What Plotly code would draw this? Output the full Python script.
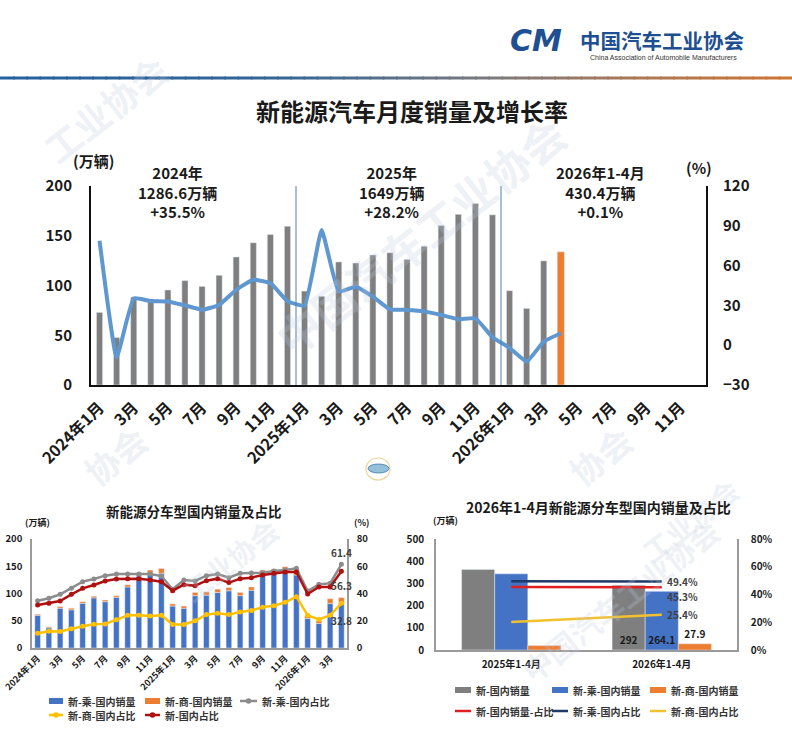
import plotly.graph_objects as go

FONT = "Noto Sans CJK SC, Noto Sans, sans-serif"
W, H = 792, 740

# ---------------- main chart data ----------------
main_months = ([f"2024年{m}月" if m == 1 else f"{m}月" for m in range(1, 13)]
               + [f"2025年{m}月" if m == 1 else f"{m}月" for m in range(1, 13)]
               + [f"2026年{m}月" if m == 1 else f"{m}月" for m in range(1, 13)])
nev_sales = [73, 47.7, 88.3, 85, 95.5, 104.9, 99.1, 110.3, 128.7, 143, 151.2, 159.6,
             94.4, 89.2, 123.7, 122.6, 130.7, 132.9, 126.2, 139.5, 160.4, 171.5, 182.3, 171,
             94.8, 77, 124.8]
nev_sales_latest = [133.8]
nev_growth = [78.8, -9.2, 35.3, 33.3, 33, 30, 26.8, 30.3, 41.8, 49.3, 46.8, 33.2,
              29.8, 86.8, 40.4, 44.1, 36.6, 27, 26.6, 25.5, 22.8, 19.5, 20.3, 6,
              -2, -12.4, 2.7, 9.0]
year_notes = ["2024年<br>1286.6万辆<br>+35.5%", "2025年<br>1649万辆<br>+28.2%",
              "2026年1-4月<br>430.4万辆<br>+0.1%"]

# ---------------- bottom-left data ----------------
sub_months = main_months[:28]
pv_dom = [60, 37, 73, 70, 82, 92, 85, 93, 112, 132, 136, 137,
          77, 73, 96, 97, 102, 105, 96, 106, 136, 138, 141, 134,
          54, 45, 81.5, 83.6]
cv_dom = [2, 2, 3, 3, 3, 3, 3, 3, 4, 5, 7, 9,
          4, 4, 6, 6, 6, 6, 6, 6, 7, 7, 8, 10,
          5, 5, 9, 8.9]
pv_share = [34.7, 36.5, 39.4, 43.8, 48.7, 50.6, 53.1, 54.3, 54.3, 54.3, 54.3, 52.8,
            43.1, 49.9, 49.2, 53.1, 54.3, 51.6, 54.8, 55.0, 55.3, 56.5, 57.2, 58.5,
            41.8, 46.7, 47.5, 61.4]
nev_share = [31.6, 32.8, 34.5, 39.4, 43.8, 46.2, 49.2, 50.6, 50.9, 50.9, 49.9, 48.7,
             42.1, 46.5, 45.7, 49.4, 50.9, 48.0, 50.9, 51.6, 53.6, 54.8, 55.8, 55.8,
             39.6, 44.8, 44.8, 56.3]
cv_share = [10.8, 12.3, 12.2, 14.2, 16, 17.5, 17.7, 20.7, 24, 24, 23.5, 24,
            17.3, 17.3, 20, 24.5, 25.5, 24.5, 26.5, 27.5, 30, 31, 33.5, 37.7,
            24, 21, 24, 32.8]

# ---------------- bottom-right data ----------------
periods = ["2025年1-4月", "2026年1-4月"]
p_nev = [363, 292]
p_pv = [343, 264.1]
p_cv = [20, 27.9]
p_nev_share = [45.4, 45.3]
p_pv_share = [49.5, 49.4]
p_cv_share = [20.1, 25.4]

C_GRAY, C_BLUE, C_ORANGE = "#7f7f7f", "#4472c4", "#ed7d31"
C_LGRAY, C_YEL, C_DRED = "#8c8c8c", "#ffc000", "#b01010"
C_RED, C_NAVY, C_YEL2 = "#e02020", "#1f3a68", "#f2c12e"


def py(px):
    return 1 - px / H


def pxx(px):
    return px / W


fig = go.Figure()

# ---- main chart ----
xi = list(range(len(nev_sales)))
fig.add_trace(go.Bar(x=xi, y=nev_sales, marker_color=C_GRAY, width=0.36,
                     showlegend=False, xaxis="x", yaxis="y"))
fig.add_trace(go.Bar(x=[len(nev_sales) + i for i in range(len(nev_sales_latest))],
                     y=nev_sales_latest, marker_color=C_ORANGE, width=0.42,
                     showlegend=False, xaxis="x", yaxis="y"))
fig.add_trace(go.Scatter(x=list(range(len(nev_growth))), y=nev_growth, mode="lines",
                         line=dict(color="#5f97d0", width=4, shape="spline", smoothing=0.35),
                         showlegend=False, xaxis="x", yaxis="y2"))

# ---- bottom-left ----
xs = list(range(len(sub_months)))
fig.add_trace(go.Bar(x=xs, y=pv_dom, marker_color=C_BLUE, width=0.5, name="新-乘-国内销量",
                     xaxis="x2", yaxis="y3", showlegend=False))
fig.add_trace(go.Bar(x=xs, y=cv_dom, base=pv_dom, marker_color=C_ORANGE, width=0.5,
                     name="新-商-国内销量", xaxis="x2", yaxis="y3", showlegend=False))
for arr, c, nm in [(pv_share, C_LGRAY, "新-乘-国内占比"), (cv_share, C_YEL, "新-商-国内占比"),
                   (nev_share, C_DRED, "新-国内占比")]:
    fig.add_trace(go.Scatter(x=xs, y=arr, mode="lines+markers", name=nm,
                             line=dict(color=c, width=2.5), marker=dict(size=5, color=c),
                             xaxis="x2", yaxis="y4", showlegend=False))

# ---- bottom-right ----
xp = list(range(len(periods)))
tf = dict(size=10, color="#1a1a1a", family=FONT, weight="bold")
fig.add_trace(go.Bar(x=xp, y=p_nev, width=0.22, offset=-0.33, marker_color=C_GRAY,
                     name="新-国内销量", text=[""] + [f"{v:g}" for v in p_nev[1:]],
                     textposition="inside", insidetextanchor="start", textangle=0,
                     textfont=tf, xaxis="x3", yaxis="y5", showlegend=False))
fig.add_trace(go.Bar(x=xp, y=p_pv, width=0.22, offset=-0.11, marker_color=C_BLUE,
                     name="新-乘-国内销量", text=[""] + [f"{v:g}" for v in p_pv[1:]],
                     textposition="inside", insidetextanchor="start", textangle=0,
                     textfont=tf, xaxis="x3", yaxis="y5", showlegend=False))
fig.add_trace(go.Bar(x=xp, y=p_cv, width=0.22, offset=0.11, marker_color=C_ORANGE,
                     name="新-商-国内销量", text=[""] + [f"{v:g}" for v in p_cv[1:]],
                     textposition="outside", textangle=0, cliponaxis=False,
                     textfont=tf, xaxis="x3", yaxis="y5", showlegend=False))
for arr, c, nm in [(p_nev_share, C_RED, "新-国内销量-占比"), (p_pv_share, C_NAVY, "新-乘-国内占比"),
                   (p_cv_share, C_YEL2, "新-商-国内占比")]:
    fig.add_trace(go.Scatter(x=xp, y=arr, mode="lines", name=nm, line=dict(color=c, width=2.5),
                             xaxis="x3", yaxis="y6", showlegend=False))

bold = lambda s, c="#1a1a1a": dict(size=s, color=c, family=FONT, weight="bold")

main_ticks = list(range(0, len(main_months), 2))
sub_ticks = list(range(0, len(sub_months) - 1, 2))

ax_common = dict(showgrid=False, zeroline=False, ticks="", automargin=False)

fig.update_layout(
    width=W, height=H, margin=dict(l=0, r=0, t=0, b=0, pad=0, autoexpand=False),
    paper_bgcolor="white", plot_bgcolor="rgba(0,0,0,0)", showlegend=False,
    barmode="overlay", font=dict(family=FONT),
    xaxis=dict(domain=[pxx(91), pxx(706)], anchor="y", range=[-0.5, 35.5],
               tickvals=main_ticks, ticktext=[main_months[i] for i in main_ticks],
               tickangle=-45, tickfont=bold(16), showline=True, linecolor="#111", linewidth=2,
               ticklabelstandoff=5, **ax_common),
    yaxis=dict(domain=[py(385), py(186)], anchor="x", range=[0, 200], dtick=50,
               tickfont=bold(15), showline=True, linecolor="#111", linewidth=2,
               ticklabelstandoff=14, **ax_common),
    yaxis2=dict(overlaying="y", side="right", anchor="x", range=[-30, 120], dtick=30,
                tickfont=bold(15), showline=True, linecolor="#111", linewidth=2,
                ticklabelstandoff=12, **ax_common),
    xaxis2=dict(domain=[pxx(32), pxx(347)], anchor="y3", range=[-0.5, 27.5],
                tickvals=sub_ticks, ticktext=[sub_months[i] for i in sub_ticks],
                tickangle=-45, tickfont=bold(9), showline=True, linecolor="#9a9a9a",
                linewidth=1.5, **ax_common),
    yaxis3=dict(domain=[py(648), py(539)], anchor="x2", range=[0, 200], dtick=50,
                tickfont=bold(9.5), showline=True, linecolor="#9a9a9a", linewidth=1.5,
                ticklabelstandoff=6, **ax_common),
    yaxis4=dict(overlaying="y3", side="right", anchor="x2", range=[0, 80], dtick=20,
                tickfont=bold(9.5), showline=True, linecolor="#9a9a9a", linewidth=1.5,
                ticklabelstandoff=6, **ax_common),
    xaxis3=dict(domain=[pxx(436), pxx(737)], anchor="y5", range=[-0.5, 1.5],
                tickvals=xp, ticktext=periods, tickfont=bold(10),
                showline=True, linecolor="#9a9a9a", linewidth=1.5,
                ticklabelstandoff=4, **ax_common),
    yaxis5=dict(domain=[py(650), py(539)], anchor="x3", range=[0, 500], dtick=100,
                tickfont=bold(10), showline=True, linecolor="#9a9a9a", linewidth=1.5,
                ticklabelstandoff=8, **ax_common),
    yaxis6=dict(overlaying="y5", side="right", anchor="x3", range=[0, 80], dtick=20,
                ticksuffix="%", tickfont=bold(10), showline=True, linecolor="#9a9a9a",
                linewidth=1.5, ticklabelstandoff=10, **ax_common),
)

shapes = []
ann = []


def txt(x, y, t, font, angle=0, xa="center"):
    ann.append(dict(x=pxx(x), y=py(y), xref="paper", yref="paper", text=t, showarrow=False,
                    xanchor=xa, yanchor="middle", textangle=angle, font=font))


# header gradient line
stops = [(0, (36, 96, 160)), (0.35, (52, 102, 150)), (0.62, (125, 122, 125)),
         (0.82, (175, 120, 85)), (1, (205, 118, 50))]


def col(t):
    for (t0, c0), (t1, c1) in zip(stops[:-1], stops[1:]):
        if t <= t1:
            f = (t - t0) / (t1 - t0)
            return "rgb(%d,%d,%d)" % tuple(round(a + (b - a) * f) for a, b in zip(c0, c1))
    return "rgb(205,118,50)"


nseg = 60
for k in range(nseg):
    shapes.append(dict(type="line", xref="paper", yref="paper",
                       x0=k / nseg, x1=(k + 1) / nseg + 0.002, y0=py(78), y1=py(78),
                       line=dict(color=col((k + 0.5) / nseg), width=3)))
# year dividers in main chart
shapes.append(dict(type="line", xref="x", yref="y", x0=11.5, x1=11.5, y0=0, y1=200,
                   line=dict(color="#4f7fb5", width=1)))
shapes.append(dict(type="line", xref="x", yref="y", x0=23.5, x1=23.5, y0=0, y1=207,
                   line=dict(color="#4f7fb5", width=1)))

# small centre emblem
shapes.append(dict(type="circle", xref="paper", yref="paper", x0=pxx(366), x1=pxx(390),
                   y0=py(480), y1=py(458), line=dict(color="rgba(230,180,90,0.6)", width=1.2)))
shapes.append(dict(type="circle", xref="paper", yref="paper", x0=pxx(368), x1=pxx(389),
                   y0=py(473), y1=py(464), fillcolor="rgba(60,140,190,0.55)",
                   line=dict(color="rgba(40,110,160,0.7)", width=1)))

# ---- manual legends ----
LEGF = bold(10, "#333333")


def leg_rect(x0, x1, y, c, label):
    shapes.append(dict(type="rect", xref="paper", yref="paper", x0=pxx(x0), x1=pxx(x1),
                       y0=py(y + 3), y1=py(y - 3), fillcolor=c, line=dict(width=0)))
    txt(x1 + 3, y, label, LEGF, xa="left")


def leg_line(x0, x1, y, c, label, marker=False):
    shapes.append(dict(type="line", xref="paper", yref="paper", x0=pxx(x0), x1=pxx(x1),
                       y0=py(y), y1=py(y), line=dict(color=c, width=2.5)))
    if marker:
        xc = (x0 + x1) / 2
        shapes.append(dict(type="circle", xref="paper", yref="paper", x0=pxx(xc - 2.8),
                           x1=pxx(xc + 2.8), y0=py(y + 2.8), y1=py(y - 2.8),
                           fillcolor=c, line=dict(width=0)))
    txt(x1 + 3, y, label, LEGF, xa="left")


leg_rect(49, 63, 701, C_BLUE, "新-乘-国内销量")
leg_rect(145, 160, 701, C_ORANGE, "新-商-国内销量")
leg_line(240, 257, 701, C_LGRAY, "新-乘-国内占比", marker=True)
leg_line(49, 63, 715, C_YEL, "新-商-国内占比", marker=True)
leg_line(145, 160, 715, C_DRED, "新-国内占比", marker=True)

leg_rect(455, 471, 690, C_GRAY, "新-国内销量")
leg_rect(552, 568, 690, C_BLUE, "新-乘-国内销量")
leg_rect(650, 666, 690, C_ORANGE, "新-商-国内销量")
leg_line(455, 471, 711, C_RED, "新-国内销量-占比")
leg_line(552, 568, 711, C_NAVY, "新-乘-国内占比")
leg_line(650, 666, 711, C_YEL2, "新-商-国内占比")

fig.update_layout(shapes=shapes)

# watermarks
wm = dict(color="rgba(190,200,218,0.26)", family=FONT, weight="bold")
for (x, y, t, s) in [(105, 108, "工业协会", 36), (420, 235, "中国汽车工业协会", 44),
                     (115, 455, "协会", 34), (600, 455, "协会", 34),
                     (230, 560, "工业协会", 28), (620, 600, "中国汽车工业协会", 30),
                     (690, 520, "工业协会", 28)]:
    txt(x, y, t, dict(size=s, **wm), angle=-38)
# logo
txt(536, 41, "<i>CM</i>", dict(size=30, color="#1d4f91", family="DejaVu Sans", weight="bold"))
txt(662, 40, "中国汽车工业协会", bold(20.5, "#1d4f91"))
txt(663, 58, "China Association of Automobile Manufacturers",
    dict(size=7, color="#333", family="Liberation Sans"))
# titles
txt(412, 110, "新能源汽车月度销量及增长率", bold(24))
txt(194, 511, "新能源分车型国内销量及占比", bold(13.5))
txt(598, 507, "2026年1-4月新能源分车型国内销量及占比", bold(14))
# unit labels
txt(93, 160, "(万辆)", bold(15))
txt(699, 167, "(%)", bold(15))
txt(37, 522, "(万辆)", bold(9))
txt(361, 522, "(%)", bold(9))
txt(445, 520, "(万辆)", bold(9))
# year notes in main chart
for (x, t) in zip([177, 391, 600], year_notes):
    txt(x, 192, t, bold(15))

# data labels on last points
lab = dict(size=10, color="#404040", family=FONT, weight="bold")
for arr, ys in [(pv_share, 12), (nev_share, -14), (cv_share, -17)]:
    ann.append(dict(x=xs[-1], y=arr[-1], xref="x2", yref="y4", text=f"{arr[-1]:.1f}",
                    showarrow=False, xanchor="center", yanchor="middle", yshift=ys, font=lab))
for arr, ys in [(p_pv_share, 0), (p_nev_share, -9), (p_cv_share, 0)]:
    ann.append(dict(x=xp[-1], y=arr[-1], xref="x3", yref="y6", text=f"{arr[-1]:.1f}%",
                    showarrow=False, xanchor="left", yanchor="middle", xshift=3, yshift=ys,
                    font=lab))
fig.update_layout(annotations=ann)

fig.write_html("out.html")
